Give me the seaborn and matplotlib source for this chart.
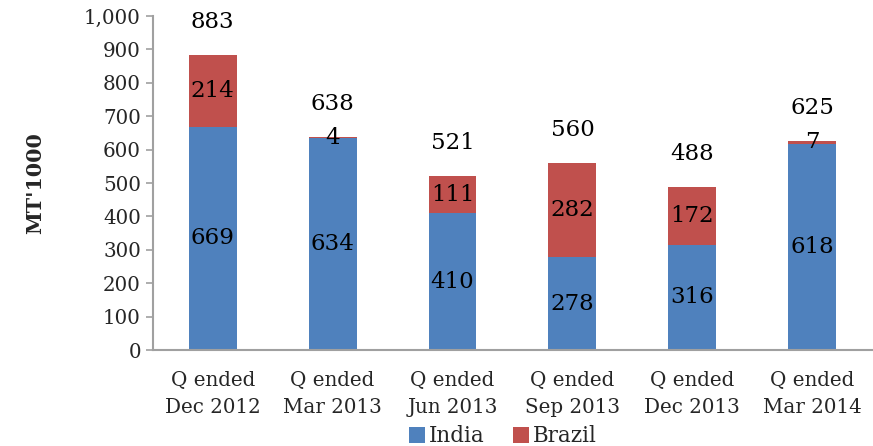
import numpy as np
import pandas as pd
import matplotlib
matplotlib.use("Agg")
import matplotlib.pyplot as plt
import seaborn as sns

quarters = ["Q ended\nDec 2012", "Q ended\nMar 2013", "Q ended\nJun 2013",
            "Q ended\nSep 2013", "Q ended\nDec 2013", "Q ended\nMar 2014"]
india = [669, 634, 410, 278, 316, 618]
brazil = [214, 4, 111, 282, 172, 7]
totals = [883, 638, 521, 560, 488, 625]

blue = "#4F81BD"
red = "#C0504D"
axis_grey = "#A0A0A0"

sns.set_theme(style="white")
plt.rcParams['font.family'] = ['DejaVu Serif']

df = pd.DataFrame({"quarter": quarters, "India": india, "Brazil": brazil})

fig = plt.figure(figsize=(8.73, 4.46), dpi=100)
ax = fig.add_axes([0.175, 0.215, 0.824, 0.749])

sns.barplot(data=df, x="quarter", y="India", color=blue, width=0.4,
            saturation=1, ax=ax, label="India", linewidth=0)
sns.barplot(data=df, x="quarter", y="Brazil", color=red, width=0.4,
            saturation=1, ax=ax, bottom=np.array(india), label="Brazil",
            linewidth=0)

val_fs = 16.5
tick_fs = 14.3
for i in range(len(quarters)):
    ax.text(i, india[i] / 2, str(india[i]), ha="center", va="center",
            fontsize=val_fs, color="black")
    ax.text(i, india[i] + brazil[i] / 2, str(brazil[i]), ha="center",
            va="center", fontsize=val_fs, color="black")
    ax.annotate(str(totals[i]), (i, totals[i]), xytext=(0, 24),
                textcoords="offset points", ha="center", va="center",
                fontsize=val_fs, color="black")

ax.set_ylim(0, 1000)
ax.set_xlim(-0.5, len(quarters) - 0.5)
ax.set_yticks(np.arange(0, 1001, 100))
ax.set_yticklabels([f"{v:,}" for v in range(0, 1001, 100)])
ax.set_xlabel("")
ax.set_ylabel("MT'1000", fontsize=14.8, fontweight="bold", labelpad=28)

ax.set_xticks(np.arange(len(quarters)))
ax.set_xticklabels(quarters, fontsize=tick_fs, linespacing=1.55)
ax.set_xticks(np.arange(-0.5, len(quarters)), minor=True)
ax.tick_params(axis="x", which="major", length=0, pad=15)
ax.tick_params(axis="x", which="minor", length=5, color=axis_grey,
               width=1.2, direction="out")
ax.tick_params(axis="y", labelsize=tick_fs, length=5, color=axis_grey,
               width=1.2, direction="out", left=True)

for side in ["top", "right"]:
    ax.spines[side].set_visible(False)
for side in ["left", "bottom"]:
    ax.spines[side].set_color(axis_grey)
    ax.spines[side].set_linewidth(1.5)

handles, labels = ax.get_legend_handles_labels()
if ax.get_legend() is not None:
    ax.get_legend().remove()
fig.legend(handles, labels, loc="lower center", bbox_to_anchor=(0.576, -0.046),
           ncol=2, frameon=False, fontsize=15.5, handlelength=0.75,
           handleheight=0.75, handletextpad=0.15, columnspacing=1.35)

fig.savefig("out.png", dpi=100)
